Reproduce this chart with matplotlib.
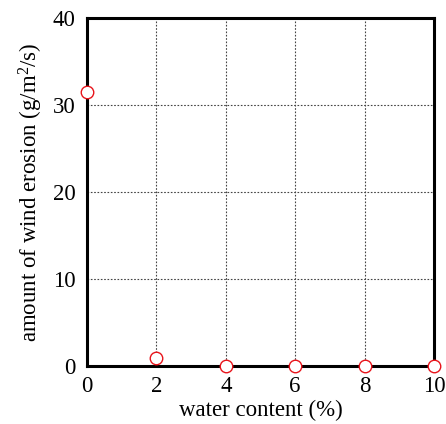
import matplotlib
matplotlib.use("Agg")
import matplotlib.pyplot as plt

water_content = [0, 2, 4, 6, 8, 10]
erosion = [31.5, 0.9, 0, 0, 0, 0]
xticks = [0, 2, 4, 6, 8, 10]
yticks = [0, 10, 20, 30, 40]

plt.rcParams['font.family'] = ['Liberation Serif', 'DejaVu Serif']
plt.rcParams['mathtext.fontset'] = 'custom'
plt.rcParams['mathtext.rm'] = 'Liberation Serif'
plt.rcParams['mathtext.it'] = 'Liberation Serif:italic'

fig = plt.figure(figsize=(4.46, 4.24), dpi=100)
ax = fig.add_axes([0.195, 0.137, 0.778, 0.821])
ax.plot(water_content, erosion, linestyle='none', marker='o', markersize=9,
        markerfacecolor='white', markeredgecolor='#e8141b', markeredgewidth=1.0,
        clip_on=False, zorder=5)
ax.set_xlim(0, 10)
ax.set_ylim(0, 40)
ax.set_xticks(xticks)
ax.set_yticks(yticks)
ax.tick_params(axis='x', length=0, labelsize=16.5, pad=7)
ax.tick_params(axis='y', length=0, labelsize=16.5, pad=8)
for lbl in ax.get_yticklabels():
    lbl.set_verticalalignment('center_baseline')
ax.grid(True, linestyle=(0, (1.5, 1.5)), color='#444444', linewidth=0.8)
for s in ax.spines.values():
    s.set_linewidth(2.2)
ax.set_xlabel('water content (%)', fontsize=16.5, labelpad=2)
ax.set_ylabel('amount of wind erosion (g/m$\\mathrm{^2}$/s)', fontsize=16.5, labelpad=6)
fig.savefig('out.png', dpi=100)
